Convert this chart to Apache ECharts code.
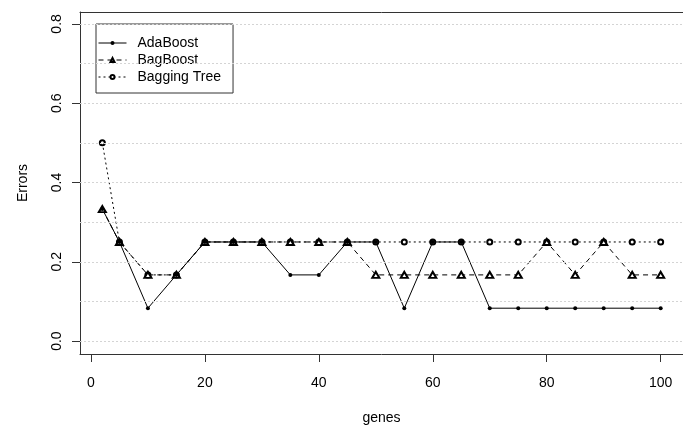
<!DOCTYPE html>
<html>
<head>
<meta charset="utf-8">
<script src="https://cdn.jsdelivr.net/npm/echarts@6/dist/echarts.min.js"></script>
<style>
  html, body { margin: 0; padding: 0; background: #fff; }
  #main { width: 683px; height: 430px; }
</style>
</head>
<body>
<div id="main"></div>
<script>
// number of genes used
var genes = [2, 5, 10, 15, 20, 25, 30, 35, 40, 45, 50, 55, 60, 65, 70, 75, 80, 85, 90, 95, 100];
// test errors per method
var adaBoost    = [0.333, 0.25, 0.083, 0.167, 0.25, 0.25, 0.25, 0.167, 0.167, 0.25, 0.25, 0.083, 0.25, 0.25, 0.083, 0.083, 0.083, 0.083, 0.083, 0.083, 0.083];
var bagBoost    = [0.333, 0.25, 0.167, 0.167, 0.25, 0.25, 0.25, 0.25, 0.25, 0.25, 0.167, 0.167, 0.167, 0.167, 0.167, 0.167, 0.25, 0.167, 0.25, 0.167, 0.167];
var baggingTree = [0.5, 0.25, 0.167, 0.167, 0.25, 0.25, 0.25, 0.25, 0.25, 0.25, 0.25, 0.25, 0.25, 0.25, 0.25, 0.25, 0.25, 0.25, 0.25, 0.25, 0.25];

var xTicks = [0, 20, 40, 60, 80, 100];
var yTicks = [0, 0.2, 0.4, 0.6, 0.8];
var gridLines = [0, 0.1, 0.2, 0.3, 0.4, 0.5, 0.6, 0.7, 0.8];

var font = "'Liberation Sans', Arial, sans-serif";

function pairs(ys) {
    return genes.map(function (g, i) { return [g, ys[i]]; });
}

var myChart = echarts.init(document.getElementById('main'));
myChart.setOption({
    animation: false,
    backgroundColor: '#fff',
    textStyle: { fontFamily: font },
    grid: { left: 80, right: -7, top: 12, bottom: 73 },
    legend: {
        data: ['AdaBoost', 'BagBoost', 'Bagging Tree'],
        orient: 'vertical',
        left: 96,
        top: 24,
        padding: [12, 12, 9, 2],
        itemWidth: 28,
        itemHeight: 5,
        itemGap: 3,
        borderColor: '#333',
        borderWidth: 1,
        lineStyle: { width: 1 },
        itemStyle: { borderWidth: 1 },
        textStyle: { fontSize: 14, color: '#000', fontFamily: font, padding: [0, 0, 0, 6] }
    },
    xAxis: [{
        type: 'value',
        min: -1.92,
        max: 103.92,
        name: 'genes',
        nameLocation: 'middle',
        nameGap: 57,
        nameTextStyle: { fontSize: 14, color: '#000' },
        axisLine: { onZero: false, lineStyle: { color: '#333', width: 1 } },
        axisTick: { customValues: xTicks, length: 8, lineStyle: { color: '#333' } },
        axisLabel: { customValues: xTicks, margin: 22, fontSize: 14, color: '#000' },
        splitLine: { show: false }
    }, {
        type: 'value',
        position: 'top',
        min: -1.92,
        max: 103.92,
        axisLine: { show: true, onZero: false, lineStyle: { color: '#333', width: 1 } },
        axisTick: { show: false },
        axisLabel: { show: false },
        splitLine: { show: false }
    }],
    yAxis: {
        type: 'value',
        min: -0.0325,
        max: 0.83,
        name: 'Errors',
        nameLocation: 'middle',
        nameRotate: 90,
        nameGap: 50,
        nameTextStyle: { fontSize: 14, color: '#000' },
        axisLine: { show: true, onZero: false, lineStyle: { color: '#333', width: 1 } },
        axisTick: { customValues: yTicks, length: 8, lineStyle: { color: '#333' } },
        axisLabel: {
            customValues: yTicks,
            rotate: 90,
            margin: 16,
            fontSize: 14,
            color: '#000',
            formatter: function (v) { return v.toFixed(1); }
        },
        splitLine: { show: false }
    },
    series: [{
        name: 'grid',
        type: 'line',
        data: [],
        z: 1,
        silent: true,
        markLine: {
            silent: true,
            symbol: 'none',
            label: { show: false },
            lineStyle: { color: '#d4d4d4', type: [2, 2], width: 1 },
            data: gridLines.map(function (v) { return { yAxis: v }; })
        }
    }, {
        name: 'Bagging Tree',
        type: 'line',
        data: pairs(baggingTree),
        symbol: 'emptyCircle',
        symbolSize: 5,
        lineStyle: { color: '#000', width: 1, type: [2, 3] },
        itemStyle: { color: '#000', borderWidth: 1 }
    }, {
        name: 'BagBoost',
        type: 'line',
        data: pairs(bagBoost),
        symbol: 'emptyTriangle',
        symbolSize: [7, 6],
        lineStyle: { color: '#000', width: 1, type: [5, 4] },
        itemStyle: { color: '#000', borderWidth: 1 }
    }, {
        name: 'AdaBoost',
        type: 'line',
        data: pairs(adaBoost),
        symbol: 'circle',
        symbolSize: 4,
        lineStyle: { color: '#000', width: 1 },
        itemStyle: { color: '#000' }
    }]
});
</script>
</body>
</html>
